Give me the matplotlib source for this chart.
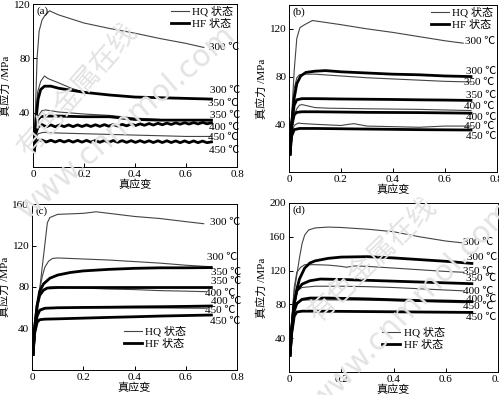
import matplotlib
matplotlib.use('Agg')
import matplotlib.pyplot as plt
from matplotlib.lines import Line2D

# ---- data: (true strain, true stress MPa) ----
# panel (a)
a_hq_300 = ([0.004, 0.01, 0.016, 0.024, 0.035, 0.048, 0.065, 0.1, 0.2, 0.3, 0.4, 0.5, 0.6, 0.67],
            [12, 45, 80, 100, 108, 112, 115, 112, 106, 102, 98.5, 94.5, 91, 88])
a_hq_350 = ([0.004, 0.01, 0.018, 0.03, 0.045, 0.06, 0.1, 0.15, 0.2, 0.3, 0.4, 0.5, 0.6, 0.7],
            [12, 35, 55, 63, 67, 65, 62, 58, 55, 53, 51.5, 51, 50.5, 50])
a_hq_400 = ([0.004, 0.012, 0.022, 0.035, 0.05, 0.1, 0.2, 0.3, 0.4, 0.5, 0.6, 0.7],
            [12, 30, 38, 41.5, 42, 40.5, 39, 38, 36, 35, 34.5, 34])
a_hq_450 = ([0.004, 0.01, 0.02, 0.04, 0.1, 0.2, 0.3, 0.4, 0.5, 0.6, 0.7],
            [12, 20, 24.5, 25.5, 25, 24.5, 24, 23.5, 23, 22.5, 22.5])
a_hf_300 = ([0.004, 0.012, 0.02, 0.03, 0.045, 0.07, 0.1, 0.2, 0.3, 0.4, 0.5, 0.6, 0.7],
            [12, 35, 50, 57, 59.5, 59.5, 58, 55, 53, 51.5, 51, 50.5, 50])
a_hf_350 = ([0.004, 0.012, 0.02, 0.03, 0.05, 0.1, 0.2, 0.3, 0.35, 0.4, 0.5, 0.6, 0.7],
            [12, 28, 35, 37, 37.5, 37.5, 37, 37, 36, 35, 34.5, 34.5, 34.5])
wave_x = [0.004, 0.01, 0.02,
          0.035, 0.052, 0.07, 0.087, 0.105, 0.122, 0.14, 0.157, 0.175, 0.192,
          0.21, 0.227, 0.245, 0.262, 0.28, 0.297, 0.315, 0.332, 0.35, 0.367,
          0.385, 0.402, 0.42, 0.437, 0.455, 0.472, 0.49, 0.507, 0.525, 0.542,
          0.56, 0.577, 0.595, 0.612, 0.63, 0.647, 0.665, 0.682, 0.7]
a_hf_400 = (wave_x,
            [12, 24, 29.5,
             31.2, 29.6, 31.0, 29.6, 31.0, 29.7, 31.0, 29.7, 31.0, 29.8,
             31.0, 29.8, 31.1, 29.9, 31.2, 30.0, 31.3, 30.1, 31.4, 30.3,
             31.6, 30.5, 31.8, 30.7, 32.0, 30.9, 32.2, 31.1, 32.3, 31.3,
             32.5, 31.5, 32.6, 31.6, 32.7, 31.7, 32.8, 31.8, 32.5])
a_hf_450 = (wave_x,
            [12, 17, 19.5,
             19.8, 18.4, 19.7, 18.4, 19.7, 18.4, 19.6, 18.3, 19.6, 18.3,
             19.6, 18.3, 19.5, 18.2, 19.5, 18.2, 19.5, 18.2, 19.4, 18.1,
             19.4, 18.1, 19.4, 18.1, 19.3, 18.0, 19.3, 18.0, 19.3, 18.0,
             19.2, 17.9, 19.2, 17.9, 19.2, 17.9, 19.1, 17.9, 18.5])

# panel (b)
b_hq_300 = ([0.004, 0.01, 0.02, 0.03, 0.042, 0.06, 0.09, 0.2, 0.3, 0.4, 0.5, 0.6, 0.67],
            [15, 46, 85, 112, 121, 123.5, 127, 123.5, 120, 117, 113.5, 110, 108])
b_hq_350 = ([0.004, 0.01, 0.02, 0.03, 0.04, 0.06, 0.1, 0.2, 0.3, 0.4, 0.5, 0.6, 0.7],
            [15, 45, 70, 79, 81.5, 82, 82, 80.5, 79, 78, 77, 76, 75.5])
b_hq_400 = ([0.004, 0.01, 0.02, 0.03, 0.04, 0.05, 0.07, 0.1, 0.15, 0.3, 0.5, 0.7],
            [15, 35, 48, 53, 56, 56.5, 55.5, 54, 53.5, 53, 52.5, 51.5])
b_hq_450 = ([0.004, 0.01, 0.02, 0.035, 0.06, 0.1, 0.15, 0.2, 0.23, 0.25, 0.3, 0.4, 0.5, 0.55, 0.6, 0.7],
            [15, 32, 39, 41, 40.5, 40, 39.5, 39, 40, 40.5, 38.5, 38, 37.5, 38, 38.5, 38.5])
b_hf_300 = ([0.004, 0.01, 0.02, 0.03, 0.045, 0.065, 0.1, 0.14, 0.2, 0.3, 0.4, 0.5, 0.6, 0.7],
            [15, 40, 62, 74, 80.5, 83.5, 84.5, 85, 84, 83, 82, 81.5, 80.5, 80])
b_hf_350 = ([0.004, 0.01, 0.02, 0.03, 0.05, 0.1, 0.2, 0.3, 0.4, 0.5, 0.6, 0.7],
            [15, 40, 56, 60.5, 61.5, 61.5, 61.2, 61, 60.8, 60.5, 60.3, 60])
b_hf_400 = ([0.004, 0.01, 0.02, 0.03, 0.05, 0.1, 0.3, 0.5, 0.7],
            [15, 38, 48, 50, 50.5, 50.5, 50, 49.8, 49.3])
b_hf_450 = ([0.004, 0.01, 0.02, 0.04, 0.1, 0.3, 0.5, 0.7],
            [15, 30, 35.5, 36.5, 36.5, 36, 35.5, 35.2])

# panel (c)
c_hq_300 = ([0.004, 0.01, 0.02, 0.03, 0.045, 0.06, 0.07, 0.1, 0.15, 0.2, 0.25, 0.3, 0.4, 0.5, 0.6, 0.67],
            [15, 40, 60, 78, 110, 142, 147, 150, 150.5, 151, 152.5, 151, 148, 146, 143, 141])
c_hq_350 = ([0.004, 0.01, 0.02, 0.03, 0.04, 0.05, 0.065, 0.08, 0.1, 0.2, 0.3, 0.4, 0.5, 0.6, 0.7],
            [15, 40, 62, 78, 90, 99, 105, 107.5, 108, 107, 106, 104.5, 103, 101, 99.5])
c_hq_400 = ([0.004, 0.01, 0.02, 0.03, 0.05, 0.07, 0.1, 0.2, 0.3, 0.4, 0.5, 0.6, 0.68],
            [15, 40, 62, 74, 78.5, 80, 80, 79, 78, 77.5, 76.5, 76, 75.5])
c_hq_450 = ([0.004, 0.01, 0.02, 0.03, 0.05, 0.1, 0.3, 0.5, 0.68],
            [15, 40, 54, 58.5, 60, 60, 60, 59.8, 59.5])
c_hf_300 = ([0.004, 0.01, 0.02, 0.03, 0.045, 0.07, 0.1, 0.15, 0.2, 0.3, 0.4, 0.5, 0.6, 0.7],
            [15, 40, 62, 76, 83, 88.5, 91.5, 94, 95.5, 97, 98, 98.5, 98.5, 98.7])
c_hf_350 = ([0.004, 0.01, 0.02, 0.03, 0.045, 0.06, 0.1, 0.2, 0.3, 0.4, 0.5, 0.6, 0.7],
            [15, 40, 62, 72, 77, 79, 79.5, 79.5, 79.5, 79.5, 79.5, 79.5, 79.5])
c_hf_400 = ([0.004, 0.01, 0.02, 0.03, 0.05, 0.1, 0.2, 0.3, 0.4, 0.5, 0.6, 0.7],
            [15, 38, 52, 57.5, 59.5, 60, 60.3, 60.5, 60.8, 61, 61.3, 61.7])
c_hf_450 = ([0.004, 0.01, 0.02, 0.03, 0.05, 0.1, 0.2, 0.3, 0.4, 0.5, 0.6, 0.7],
            [15, 35, 46, 48.5, 49, 49.3, 50, 50.7, 51.3, 52, 52.5, 53])

# panel (d)
d_hq_300 = ([0.004, 0.01, 0.02, 0.03, 0.04, 0.05, 0.06, 0.075, 0.1, 0.15, 0.2, 0.3, 0.4, 0.45, 0.5, 0.6, 0.66],
            [20, 60, 95, 115, 135, 152, 162, 168, 170.5, 171.5, 171, 169, 166, 163, 160, 155, 153])
d_hq_350 = ([0.004, 0.01, 0.02, 0.03, 0.045, 0.06, 0.1, 0.15, 0.2, 0.22, 0.25, 0.3, 0.4, 0.5, 0.6, 0.67],
            [20, 60, 100, 118, 124, 127, 127, 126.5, 125, 124, 125.5, 125, 123, 121, 119, 118])
d_hq_400 = ([0.004, 0.01, 0.02, 0.03, 0.05, 0.1, 0.2, 0.3, 0.4, 0.5, 0.6, 0.67],
            [20, 55, 85, 96, 100, 101.5, 101.5, 101, 100, 98.5, 97, 96])
d_hq_450 = ([0.004, 0.01, 0.02, 0.03, 0.05, 0.1, 0.3, 0.5, 0.67],
            [20, 50, 74, 82, 85, 85.5, 85, 83.5, 82])
d_hf_300 = ([0.004, 0.01, 0.02, 0.03, 0.04, 0.06, 0.08, 0.1, 0.15, 0.2, 0.3, 0.4, 0.5, 0.6, 0.7],
            [20, 50, 80, 98, 110, 123, 129, 131.5, 134.5, 136, 136.5, 135, 133, 131, 128.5])
d_hf_350 = ([0.004, 0.01, 0.02, 0.03, 0.05, 0.08, 0.12, 0.2, 0.3, 0.4, 0.5, 0.6, 0.7],
            [20, 50, 82, 96, 104, 108, 110, 109.5, 108.5, 107.5, 106.5, 105.5, 104.5])
d_hf_400 = ([0.004, 0.01, 0.02, 0.03, 0.05, 0.08, 0.15, 0.3, 0.4, 0.5, 0.6, 0.7],
            [20, 48, 72, 81, 86, 87.5, 87.5, 86.5, 85.5, 84.5, 84, 83.2])
d_hf_450 = ([0.004, 0.01, 0.02, 0.03, 0.05, 0.1, 0.3, 0.5, 0.7],
            [20, 45, 66, 71, 72, 72, 71.5, 71, 70.5])

# temperature labels at the right end of each panel (text, x, y)
temps = ['300 ℃', '300 ℃', '350 ℃', '350 ℃', '400 ℃', '400 ℃', '450 ℃', '450 ℃']
a_labels = (['300 ℃', '300 ℃', '350 ℃', '350 ℃', '400 ℃', '450 ℃', '450 ℃'],
            [0.69, 0.695, 0.685, 0.695, 0.69, 0.685, 0.69],
            [88, 56, 47, 38, 29, 22, 12.5])
b_labels = (temps, [0.677, 0.68, 0.675, 0.68, 0.675, 0.68, 0.675, 0.68],
            [109, 84, 75, 64.5, 54.5, 46, 38.5, 29.5])
c_labels = (temps, [0.695, 0.682, 0.698, 0.698, 0.676, 0.70, 0.676, 0.695],
            [141.7, 108, 93.5, 85, 74, 66.5, 57, 47])
d_labels = (temps, [0.667, 0.68, 0.667, 0.676, 0.667, 0.676, 0.667, 0.676],
            [152.7, 135, 119.5, 111, 94.7, 86, 77, 65])

serif = ['Liberation Serif', 'Noto Sans CJK SC']
plt.rcParams['font.family'] = serif
plt.rcParams['font.size'] = 8

fig = plt.figure(figsize=(4.99, 3.95), dpi=100)

W, H = 499.0, 395.0
def box(l, r, t, b):
    return [l / W, 1 - b / H, (r - l) / W, (b - t) / H]

hq_color = '#444444'

panels = [
    ('(a)', box(33, 237, 4, 167), 120, [a_hq_300, a_hq_350, a_hq_400, a_hq_450],
     [a_hf_300, a_hf_350, a_hf_400, a_hf_450], a_labels, 'upper right'),
    ('(b)', box(289, 497, 5, 172), 140, [b_hq_300, b_hq_350, b_hq_400, b_hq_450],
     [b_hf_300, b_hf_350, b_hf_400, b_hf_450], b_labels, 'upper right'),
    ('(c)', box(32, 237, 204, 370), 160, [c_hq_300, c_hq_350, c_hq_400, c_hq_450],
     [c_hf_300, c_hf_350, c_hf_400, c_hf_450], c_labels, 'lower'),
    ('(d)', box(289, 498, 203, 372), 200, [d_hq_300, d_hq_350, d_hq_400, d_hq_450],
     [d_hf_300, d_hf_350, d_hf_400, d_hf_450], d_labels, 'lower'),
]

for tag, pos, ymax, hq, hf, labels, legpos in panels:
    ax = fig.add_axes(pos)
    for xs, ys in hq:
        ax.plot(xs, ys, color=hq_color, lw=0.8)
    for xs, ys in hf:
        ax.plot(xs, ys, color='black', lw=2.0)
    for txt, lx, ly in zip(*labels):
        ax.text(lx, ly, txt, fontsize=8, va='center', ha='left', family=serif)
    ax.set_xlim(0, 0.8)
    ax.set_ylim(0, ymax)
    ax.set_xticks([0, 0.2, 0.4, 0.6, 0.8])
    ax.set_xticklabels(['0', '0.2', '0.4', '0.6', '0.8'])
    yt = list(range(40, ymax + 1, 40))
    ax.set_yticks(yt)
    ax.set_yticklabels([str(v) for v in yt])
    ax.tick_params(direction='in', length=3, width=0.7, labelsize=8, pad=2)
    for s in ax.spines.values():
        s.set_linewidth(0.7)
    ax.text(0.015, 0.985, tag, transform=ax.transAxes, va='top', ha='left', fontsize=8)
    ax.set_xlabel('真应变', fontsize=8, labelpad=1)
    ax.set_ylabel('真应力 /MPa', fontsize=8, labelpad=2)

    handles = [Line2D([], [], color=hq_color, lw=0.8), Line2D([], [], color='black', lw=2.0)]
    if legpos == 'upper right':
        anchor = (1.02, 1.035)
        loc = 'upper right'
    else:
        anchor = (0.41, 0.31)
        loc = 'upper left'
    ax.legend(handles, ['HQ 状态', 'HF 状态'], loc=loc, bbox_to_anchor=anchor, frameon=False,
              fontsize=8, handlelength=1.6, handletextpad=0.3, labelspacing=0.2, borderpad=0.2)

# faint site watermark
wm = '#e3e3e3'
fig.text(78 / W, 1 - 90 / H, '有色金属在线', rotation=49, fontsize=20, color=wm,
         ha='center', va='center', rotation_mode='anchor', family=['Noto Sans CJK SC'])
fig.text(126 / W, 1 - 122 / H, 'www.cnmmol.com', rotation=41, fontsize=22, color=wm,
         ha='center', va='center', rotation_mode='anchor', family=['DejaVu Sans'])
fig.text(373 / W, 1 - 260 / H, '有色金属在线', rotation=44, fontsize=20, color=wm,
         ha='center', va='center', rotation_mode='anchor', family=['Noto Sans CJK SC'])
fig.text(412 / W, 1 - 305 / H, 'www.cnmmol.com', rotation=46, fontsize=22, color=wm,
         ha='center', va='center', rotation_mode='anchor', family=['DejaVu Sans'])

fig.savefig('out.png', dpi=100)
